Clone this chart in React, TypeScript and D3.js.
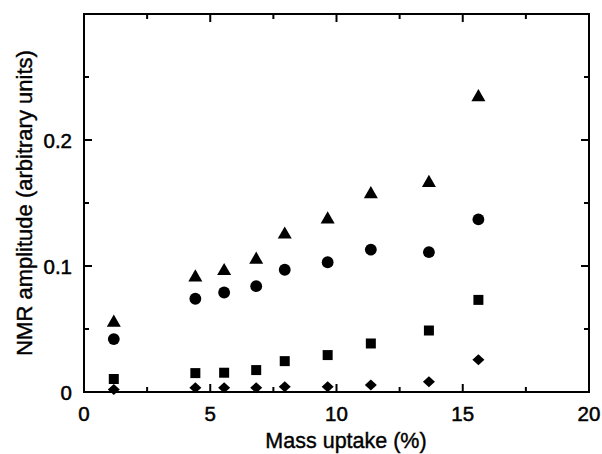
import React from "react";
import * as d3 from "d3";

const massUptake = [1.18, 4.41, 5.55, 6.82, 7.95, 9.65, 11.36, 13.66, 15.62];
const triangleSeries = [0.055, 0.091, 0.096, 0.105, 0.125, 0.137, 0.157, 0.166, 0.234];
const circleSeries = [0.042, 0.074, 0.079, 0.084, 0.097, 0.103, 0.113, 0.111, 0.137];
const squareSeries = [0.0103, 0.015, 0.0153, 0.0174, 0.0245, 0.0293, 0.0385, 0.0488, 0.0731];
const diamondSeries = [0.002, 0.0034, 0.0034, 0.0034, 0.0042, 0.0042, 0.0055, 0.0082, 0.0256];
const xTicks = [0, 5, 10, 15, 20];
const xMinor = [2.5, 7.5, 12.5, 17.5];
const yTicks = [0, 0.1, 0.2];
const yTickLabels = ["0", "0.1", "0.2"];
const yMinor = [0.05, 0.15, 0.25];

const W = 602, H = 454;
const L = 84, R = 589, T = 14, B = 392;

export default function App() {
  const x = d3.scaleLinear().domain([0, 20]).range([L, R]);
  const y = d3.scaleLinear().domain([0, 0.3]).range([B, T]);
  const font = "'Liberation Sans', Arial, sans-serif";
  const sym = (type: d3.SymbolType, size: number) => d3.symbol().type(type).size(size)()!;
  const tri = sym(d3.symbolTriangle, 85);
  const circ = sym(d3.symbolCircle, 110);
  const sq = sym(d3.symbolSquare, 100);
  const diamondPath = "M0,-5.5L6,0L0,5.5L-6,0Z";
  const major = 8, minor = 5;
  return (
    <svg width={W} height={H} style={{ position: "absolute", left: 0, top: 0 }} fontFamily={font}>
      <rect x={0} y={0} width={W} height={H} fill="#fff" />
      <rect x={L} y={T} width={R - L} height={B - T} fill="none" stroke="#000" strokeWidth={2} />
      {xTicks.map((t) => (
        <g key={"xt" + t}>
          <line x1={x(t)} x2={x(t)} y1={B} y2={B - major} stroke="#000" strokeWidth={2} />
          <line x1={x(t)} x2={x(t)} y1={T} y2={T + major} stroke="#000" strokeWidth={2} />
          <text x={x(t)} y={421} textAnchor="middle" fontSize={20.5} fill="#000" stroke="#000" strokeWidth={0.5}>{t}</text>
        </g>
      ))}
      {xMinor.map((t) => (
        <g key={"xm" + t}>
          <line x1={x(t)} x2={x(t)} y1={B} y2={B - minor} stroke="#000" strokeWidth={2} />
          <line x1={x(t)} x2={x(t)} y1={T} y2={T + minor} stroke="#000" strokeWidth={2} />
        </g>
      ))}
      {yTicks.map((t, i) => (
        <g key={"yt" + t}>
          <line x1={L} x2={L + major} y1={y(t)} y2={y(t)} stroke="#000" strokeWidth={2} />
          <line x1={R} x2={R - major} y1={y(t)} y2={y(t)} stroke="#000" strokeWidth={2} />
          <text x={72} y={y(t) + 7.5} textAnchor="end" fontSize={20.5} fill="#000" stroke="#000" strokeWidth={0.5}>{yTickLabels[i]}</text>
        </g>
      ))}
      {yMinor.map((t) => (
        <g key={"ym" + t}>
          <line x1={L} x2={L + minor} y1={y(t)} y2={y(t)} stroke="#000" strokeWidth={2} />
          <line x1={R} x2={R - minor} y1={y(t)} y2={y(t)} stroke="#000" strokeWidth={2} />
        </g>
      ))}
      <text x={346} y={448} textAnchor="middle" fontSize={21.5} fill="#000" stroke="#000" strokeWidth={0.4}>Mass uptake (%)</text>
      <text transform={`translate(32,${(T + B) / 2}) rotate(-90)`} textAnchor="middle" fontSize={22} fill="#000" stroke="#000" strokeWidth={0.4}>NMR amplitude (arbitrary units)</text>
      {massUptake.map((m, i) => (
        <g key={"p" + i}>
          <path d={tri} transform={`translate(${x(m)},${y(triangleSeries[i])})`} fill="#000" />
          <path d={circ} transform={`translate(${x(m)},${y(circleSeries[i])})`} fill="#000" />
          <path d={sq} transform={`translate(${x(m)},${y(squareSeries[i])})`} fill="#000" />
          <path d={diamondPath} transform={`translate(${x(m)},${y(diamondSeries[i])})`} fill="#000" />
        </g>
      ))}
    </svg>
  );
}
